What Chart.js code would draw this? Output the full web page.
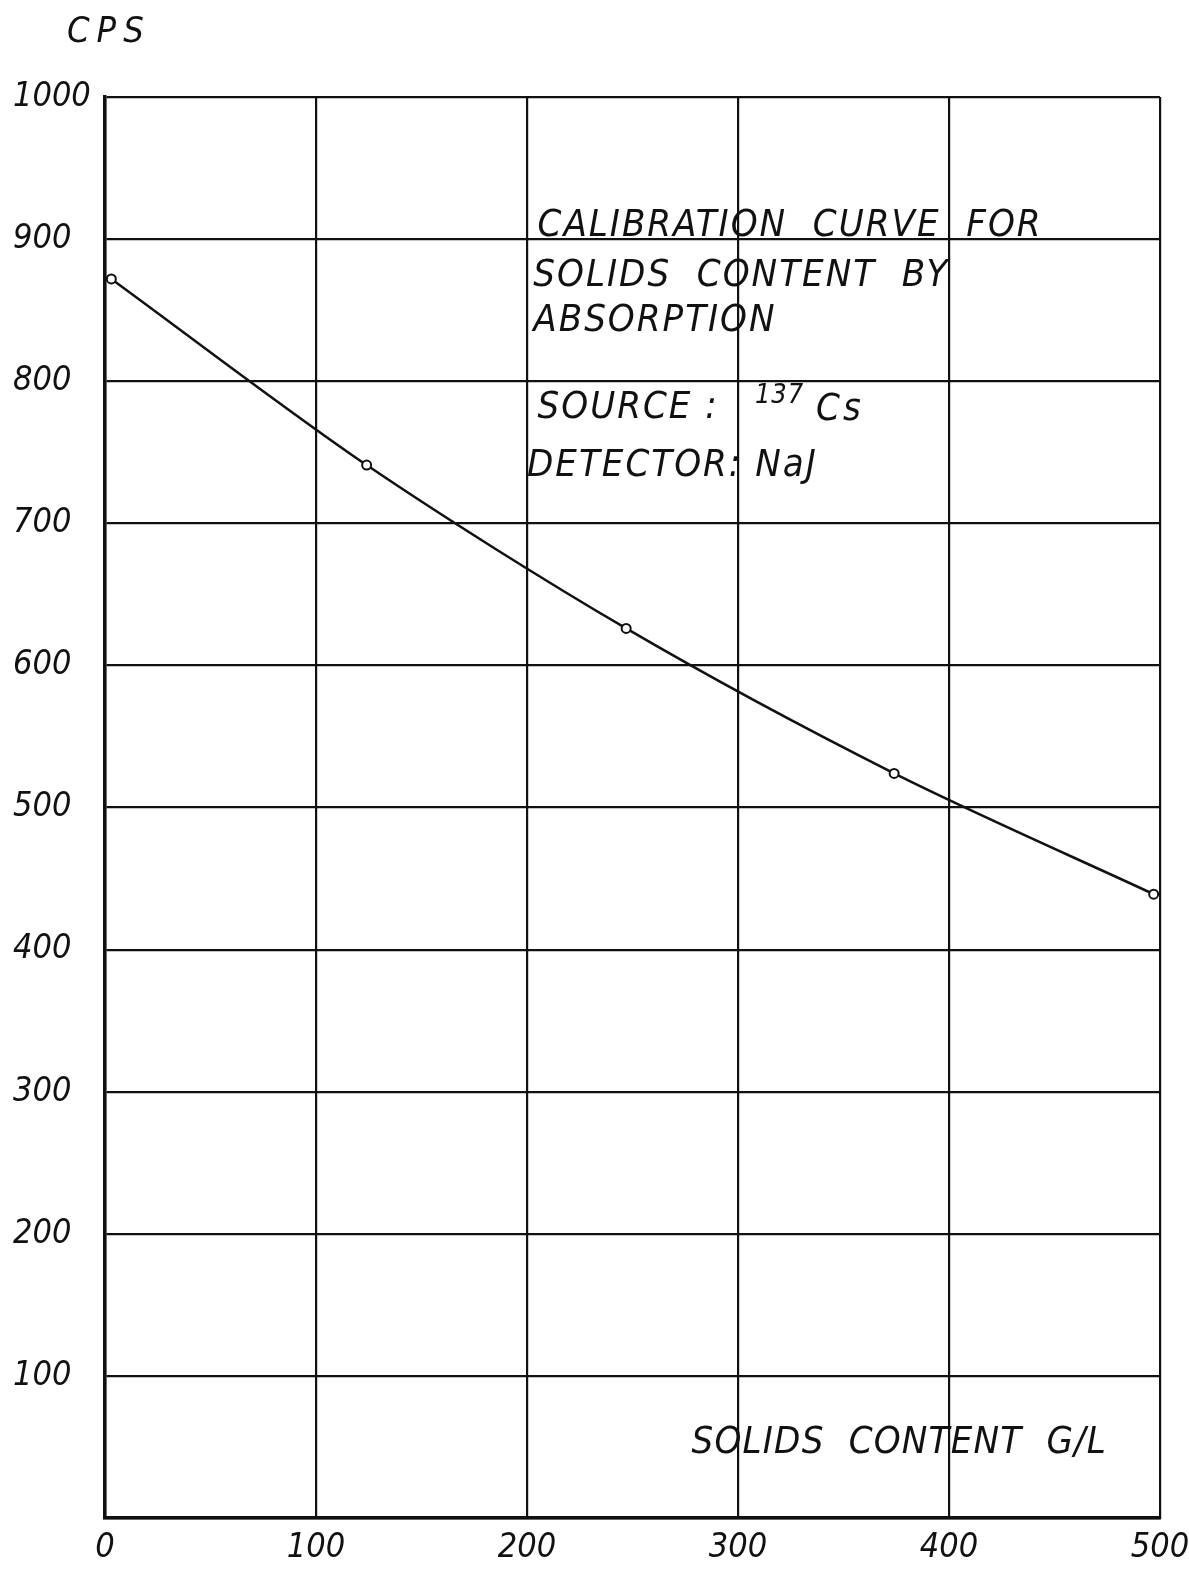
<!DOCTYPE html>
<html>
<head>
<meta charset="utf-8">
<title>Calibration curve</title>
<script src="https://cdn.jsdelivr.net/npm/chart.js@4.4.1/dist/chart.umd.min.js"></script>
<style>
  html, body { margin: 0; padding: 0; background: #fff; }
  #wrap { width: 1189px; height: 1569px; }
</style>
</head>
<body>
<div id="wrap"><canvas id="calChart" width="1189" height="1569"></canvas></div>
<script>
// data
const solids = [3, 124, 247, 374, 497];      // G/L
const cps = [872, 741, 626, 524, 439];       // counts per second
const xTicks = [0, 100, 200, 300, 400, 500];
const yTicks = [100, 200, 300, 400, 500, 600, 700, 800, 900, 1000];

const FONT = "'DejaVu Sans Condensed', 'DejaVu Sans', sans-serif";
const INK = '#111';

// notes written on the sheet, anchored in data units
const notes = [
    { text: 'CALIBRATION  CURVE  FOR', x: 205, y: 902, size: 38, sp: 2 },
    { text: 'SOLIDS  CONTENT  BY', x: 203, y: 867, size: 38, sp: 2 },
    { text: 'ABSORPTION', x: 203, y: 835, size: 38, sp: 2 },
    { text: 'SOURCE :', x: 205, y: 774, size: 38, sp: 2 },
    { text: '137', x: 308, y: 785, size: 27, sp: 1 },
    { text: 'Cs', x: 337, y: 773, size: 38, sp: 3 },
    { text: 'DETECTOR: NaJ', x: 200, y: 733, size: 38, sp: 2 },
    { text: 'SOLIDS  CONTENT  G/L', x: 278, y: 46, size: 38, sp: 1.2 }
];

const notesPlugin = {
    id: 'notes',
    afterDatasetsDraw(chart) {
        const ctx = chart.ctx;
        const sx = chart.scales.x, sy = chart.scales.y;
        ctx.save();
        ctx.fillStyle = INK;
        ctx.textBaseline = 'alphabetic';
        ctx.textAlign = 'left';
        notes.forEach(n => {
            ctx.font = 'italic ' + n.size + 'px ' + FONT;
            ctx.letterSpacing = n.sp + 'px';
            ctx.fillText(n.text, sx.getPixelForValue(n.x), sy.getPixelForValue(n.y));
        });
        // axis unit above the y axis
        ctx.font = 'italic 36px ' + FONT;
        ctx.letterSpacing = '7px';
        ctx.fillText('CPS', chart.chartArea.left - 38, chart.chartArea.top - 55);
        ctx.restore();
    }
};

const ctx = document.getElementById('calChart');
new Chart(ctx, {
    type: 'line',
    data: {
        datasets: [{
            data: solids.map((s, i) => ({ x: s, y: cps[i] })),
            borderColor: INK,
            borderWidth: 2.5,
            tension: 0.3,
            pointRadius: 4.5,
            pointBorderWidth: 2,
            pointBackgroundColor: '#fff',
            pointBorderColor: INK
        }]
    },
    options: {
        responsive: false,
        animation: false,
        devicePixelRatio: 1,
        layout: { padding: { top: 97, right: 29, left: 13, bottom: 0 } },
        plugins: { legend: { display: false }, tooltip: { enabled: false } },
        scales: {
            x: {
                type: 'linear',
                min: 0,
                max: 500,
                afterBuildTicks: s => { s.ticks = xTicks.map(v => ({ value: v })); },
                afterFit: s => { s.height = 51; s.paddingLeft = 0; s.paddingRight = 0; },
                grid: { color: INK, lineWidth: 2.2, drawTicks: false },
                border: { color: INK, width: 3.5 },
                ticks: {
                    color: INK,
                    padding: 10,
                    maxRotation: 0,
                    font: { family: FONT, size: 34, style: 'italic' }
                }
            },
            y: {
                type: 'linear',
                min: 0,
                max: 1000,
                afterBuildTicks: s => { s.ticks = [0].concat(yTicks).map(v => ({ value: v })); },
                afterFit: s => { s.width = 92; s.paddingTop = 0; s.paddingBottom = 0; },
                grid: { color: INK, lineWidth: 2.2, drawTicks: false },
                border: { color: INK, width: 3.5 },
                ticks: {
                    color: INK,
                    crossAlign: 'far',
                    padding: 10,
                    callback: v => (v === 0 ? '' : v),
                    font: { family: FONT, size: 34, style: 'italic' }
                }
            }
        }
    },
    plugins: [notesPlugin]
});
</script>
</body>
</html>
